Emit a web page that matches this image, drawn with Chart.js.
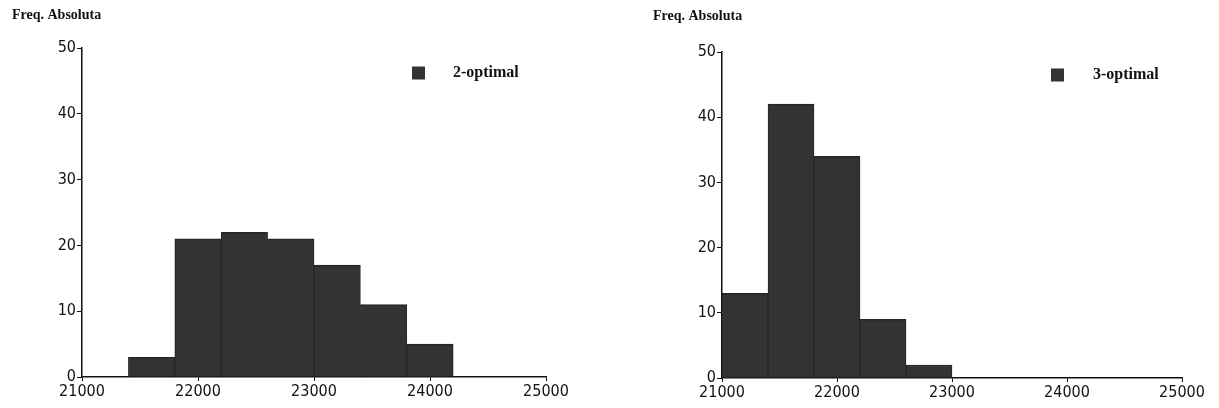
<!DOCTYPE html>
<html>
<head>
<meta charset="utf-8">
<script src="https://cdn.jsdelivr.net/npm/chart.js@4.4.1/dist/chart.umd.min.js"></script>
<style>
  html, body { margin: 0; padding: 0; background: #fff; }
  #wrap { position: relative; width: 1219px; height: 408px; }
  .box { position: absolute; top: 0; height: 408px; }
</style>
</head>
<body>
<div id="wrap">
  <div class="box" style="left:0;width:609px"><canvas id="chartLeft"></canvas></div>
  <div class="box" style="left:609px;width:610px"><canvas id="chartRight"></canvas></div>
</div>
<script>
// histogram data, lower edge of each bin and its absolute frequency
var binWidth = 400;
var bins2opt = [21400, 21800, 22200, 22600, 23000, 23400, 23800];
var freq2opt = [3, 21, 22, 21, 17, 11, 5];
var bins3opt = [21000, 21400, 21800, 22200, 22600];
var freq3opt = [13, 42, 34, 9, 2];
var xTicks = [21000, 22000, 23000, 24000, 25000];
var yTicks = [0, 10, 20, 30, 40, 50];
var yTitle = "Freq. Absoluta";

var tickFont = { family: "'DejaVu Sans Condensed', 'Liberation Sans Narrow', sans-serif", size: 16 };
var ink = "#111111";

function toPoints(bins, freq) {
  var pts = [];
  for (var i = 0; i < bins.length; i++) {
    pts.push({ x: bins[i] + binWidth / 2, y: freq[i] });
  }
  return pts;
}

// draws the small title top-left and the legend box inside the plot
var decorations = {
  id: "decorations",
  afterDraw: function (chart, args, opts) {
    var ctx = chart.ctx;
    ctx.save();
    ctx.fillStyle = ink;
    ctx.font = "bold 14px 'Liberation Serif', serif";
    ctx.textBaseline = "middle";
    ctx.textAlign = "left";
    ctx.fillText(yTitle, opts.titleX, opts.titleY);

    var ds = chart.data.datasets[0];
    var lx = chart.chartArea.right - opts.legendRight;
    var ly = opts.legendY;
    ctx.fillStyle = ds.backgroundColor;
    ctx.fillRect(lx, ly - 6.5, 13, 13);
    ctx.fillStyle = ink;
    ctx.font = "bold 16px 'Liberation Serif', serif";
    ctx.fillText(ds.label, lx + opts.legendGap, ly);
    ctx.restore();
  }
};

function makeChart(id, label, bins, freq, box) {
  return new Chart(document.getElementById(id), {
    type: "bar",
    data: {
      datasets: [{
        label: label,
        data: toPoints(bins, freq),
        backgroundColor: "#333333",
        borderColor: "#262626",
        borderWidth: { top: 1.5, left: 1, right: 1, bottom: 0 },
        borderSkipped: false,
        barPercentage: 1,
        categoryPercentage: 1
      }]
    },
    options: {
      responsive: true,
      maintainAspectRatio: false,
      animation: false,
      layout: { padding: { left: 0, top: box.top, right: box.right, bottom: 0 } },
      plugins: {
        legend: { display: false },
        tooltip: { enabled: false },
        decorations: box.deco
      },
      scales: {
        x: {
          type: "linear",
          offset: false,
          min: 21000,
          max: 25000,
          afterBuildTicks: function (s) { s.ticks = xTicks.map(function (v) { return { value: v }; }); },
          afterFit: function (s) { s.height = box.xHeight; },
          grid: { display: true, offset: false, drawOnChartArea: false, tickLength: 4, color: ink },
          border: { color: ink, width: 1.5 },
          ticks: {
            font: tickFont, color: ink, padding: 1, maxRotation: 0,
            callback: function (v) { return String(v); }
          }
        },
        y: {
          min: 0,
          max: 50,
          afterBuildTicks: function (s) { s.ticks = yTicks.map(function (v) { return { value: v }; }); },
          afterFit: function (s) { s.width = box.yWidth; },
          grid: { display: true, drawOnChartArea: false, tickLength: 5, color: ink },
          border: { color: ink, width: 1.5 },
          ticks: { font: tickFont, color: ink, padding: 1 }
        }
      }
    },
    plugins: [decorations]
  });
}

makeChart("chartLeft", "2-optimal", bins2opt, freq2opt, {
  top: 48, right: 63, xHeight: 31, yWidth: 82,
  deco: { titleX: 12, titleY: 15, legendRight: 134, legendY: 73, legendGap: 41 }
});
makeChart("chartRight", "3-optimal", bins3opt, freq3opt, {
  top: 52, right: 37, xHeight: 30, yWidth: 113,
  deco: { titleX: 44, titleY: 16, legendRight: 131, legendY: 75, legendGap: 42 }
});
</script>
</body>
</html>
